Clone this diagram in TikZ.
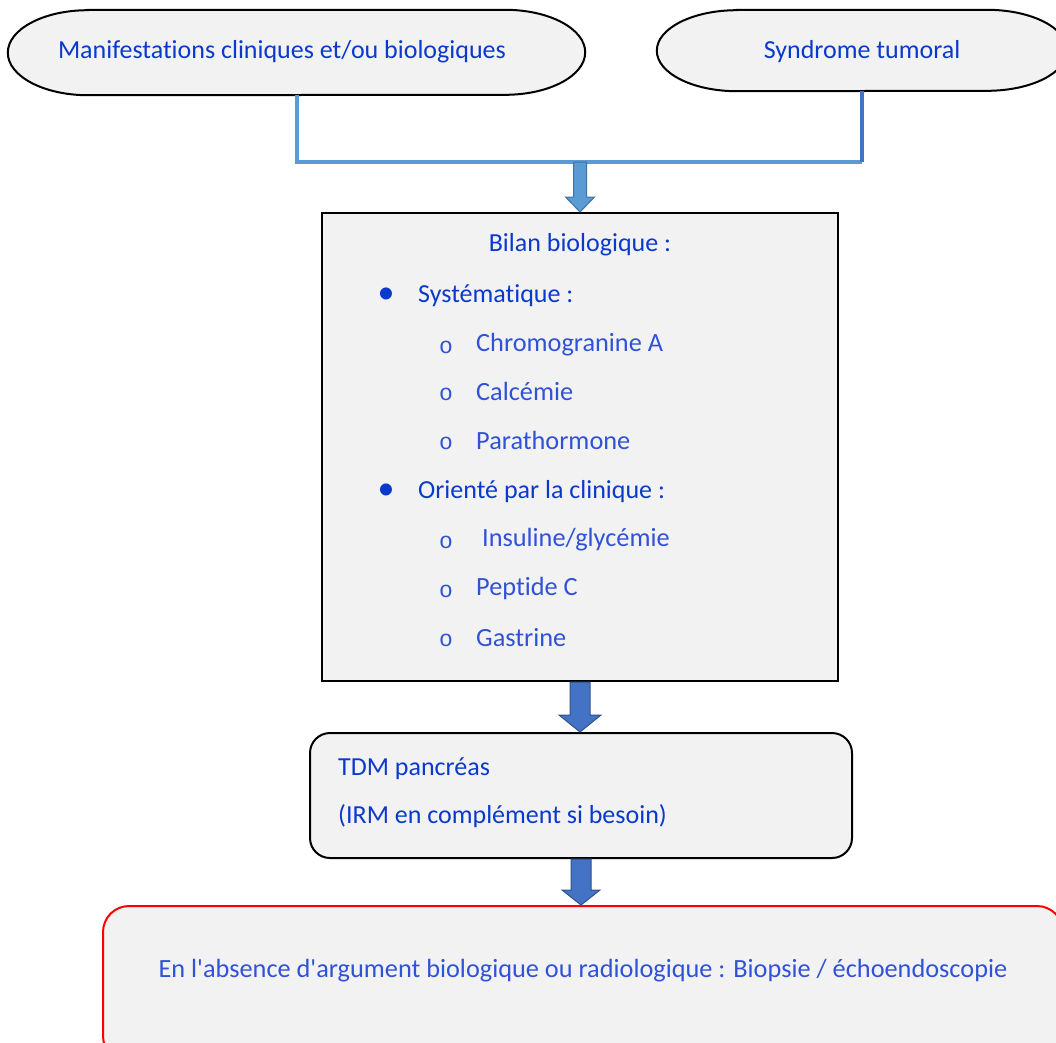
\documentclass[tikz,border=0pt]{standalone}
\usepackage{fontspec}
\setmainfont{Carlito}[Ligatures={NoCommon}]
\setmonofont{Liberation Mono}
\usetikzlibrary{calc}

\definecolor{boxgray}{HTML}{F2F2F2}
\definecolor{headblue}{HTML}{0A3ACD}
\definecolor{itemblue}{HTML}{3052D6}
\definecolor{linklight}{HTML}{5B9BD5}
\definecolor{linkdark}{HTML}{4472C4}
\definecolor{arrowedge}{HTML}{41719C}
\definecolor{arrowedgedk}{HTML}{2F528F}

% pill with elliptic ends: name, cx, cy, width, height
\newcommand{\pillbox}[5]{%
  \node[minimum width=#4pt, minimum height=#5pt, inner sep=0pt] (#1) at (#2,#3) {};
  \filldraw[pill] ($(#1.north west)+(80pt,0pt)$) -- ($(#1.north east)+(-80pt,0pt)$)
    arc[start angle=90, end angle=-90, x radius=80pt, y radius=#5pt/2]
    -- ($(#1.south west)+(80pt,0pt)$)
    arc[start angle=270, end angle=90, x radius=80pt, y radius=#5pt/2] -- cycle;}

% block arrow: from, to, half shaft, half head, head length, style
\newcommand{\blockarrow}[6]{%
  \filldraw[#6] let \p1=(#1), \p2=(#2) in
    (\x1-#3pt,\y1) -- (\x1+#3pt,\y1) -- (\x1+#3pt,\y2+#5pt) -- (\x1+#4pt,\y2+#5pt)
    -- (\x1,\y2) -- (\x1-#4pt,\y2+#5pt) -- (\x1-#3pt,\y2+#5pt) -- cycle;}

\begin{document}
\begin{tikzpicture}[x=1pt, y=-1pt,
  pill/.style={fill=boxgray, draw=black, line width=2pt},
  headtxt/.style={text=headblue, font=\fontsize{26}{30}\selectfont, inner sep=0pt, yshift=-1.5pt},
  itemtxt/.style={text=itemblue, font=\fontsize{26.3}{30}\selectfont, inner sep=0pt, anchor=west, yshift=-1.5pt},
  circmark/.style={text=itemblue, font=\ttfamily\fontsize{23}{24}\selectfont, inner sep=0pt, yshift=-4pt},
  dotmark/.style={text=headblue, font=\fontsize{34}{36}\selectfont, inner sep=0pt},
  sqbox/.style={fill=boxgray, draw=black, line width=2pt, inner sep=0pt},
  rbox/.style={fill=boxgray, draw=black, line width=2pt, rounded corners=20pt, inner sep=0pt},
  redbox/.style={fill=boxgray, draw=red, line width=2pt, rounded corners=26pt, inner sep=0pt},
  lightline/.style={draw=linklight, line width=4pt},
  darkline/.style={draw=linkdark, line width=4pt},
  arrlight/.style={fill=linklight, draw=arrowedge, line width=1pt},
  arrdark/.style={fill=linkdark, draw=arrowedgedk, line width=1pt}]

  % cadre de la page
  \useasboundingbox (0,0) rectangle (1056,1042);
  \clip (0,0) rectangle (1056,1042);

  % les deux entrées
  \pillbox{mc}{296.5}{52.5}{577}{85}
  \pillbox{st}{862}{50.5}{410}{81}
  \node[headtxt] (mclab) at (282,50) {Manifestations cliniques et/ou biologiques};
  \node[headtxt] (stlab) at (862,50) {Syndrome tumoral};

  % jonction
  \coordinate (join) at (580,162);
  \draw[lightline] (mc.south) -- (mc.south |- join) -- (st.south |- join);
  \draw[darkline] (st.south) -- (st.south |- join);

  % bilan biologique
  \node[sqbox, minimum width=516pt, minimum height=468pt] (bilan) at (580,447) {};
  \node[headtxt] (bilanlab) at (580,243) {Bilan biologique :};

  \node[dotmark] (d1) at (386,296) {•};
  \node[headtxt, anchor=west] (sys) at (418,294) {Systématique :};
  \foreach \yy/\lab [count=\i] in {343/Chromogranine A, 390/Calcémie, 439/Parathormone}{
    \node[circmark] (sm\i) at (446,\yy) {o};
    \node[itemtxt] (si\i) at (476,\yy) {\lab};
  }

  \node[dotmark] (d2) at (386,492) {•};
  \node[headtxt, anchor=west] (ori) at (418,490) {Orienté par la clinique :};
  \foreach \yy/\lab [count=\i] in {538/{\ Insuline/glycémie}, 587/Peptide C, 636/Gastrine}{
    \node[circmark] (om\i) at (446,\yy) {o};
    \node[itemtxt] (oi\i) at (476,\yy) {\lab};
  }

  % imagerie
  \node[rbox, minimum width=542pt, minimum height=125pt] (tdm) at (581,795.5) {};
  \node[headtxt, anchor=west] (tdm1) at (338,767) {TDM pancréas};
  \node[headtxt, anchor=west] (tdm2) at (338,815) {(IRM en complément si besoin)};

  % dernier recours
  \node[redbox, minimum width=960pt, minimum height=156pt] (biop) at (583,984) {};
  \node[itemtxt, anchor=center] (bioplab) at (583,969)
    {En l\textquotesingle absence d\textquotesingle argument biologique ou radiologique : Biopsie / échoendoscopie};

  % flèches
  \blockarrow{join}{bilan.north}{6.5}{14.5}{15}{arrlight}
  \blockarrow{bilan.south}{tdm.north}{10}{21}{17}{arrdark}
  \blockarrow{tdm.south}{biop.north}{10}{19}{15}{arrdark}
\end{tikzpicture}
\end{document}
